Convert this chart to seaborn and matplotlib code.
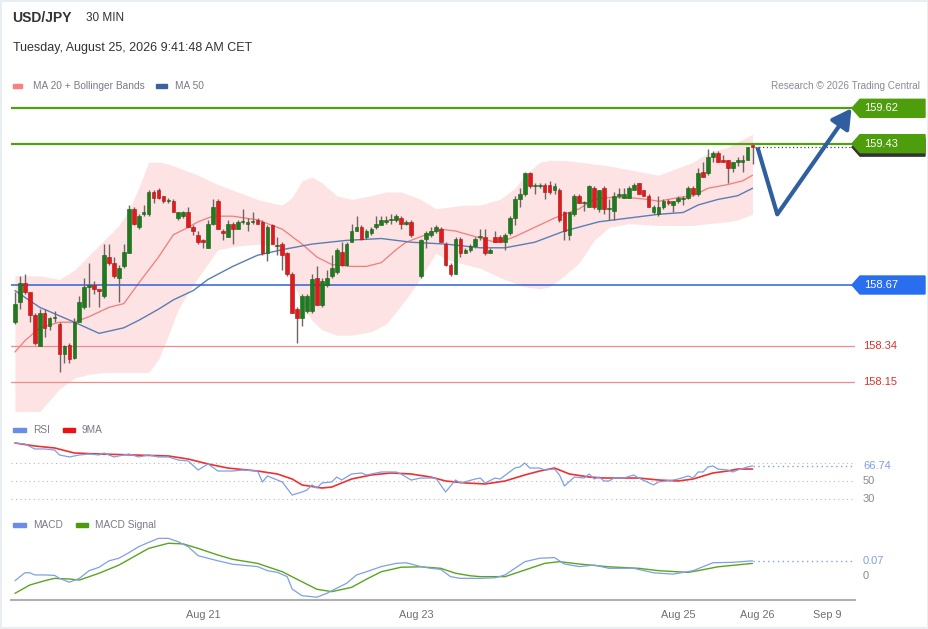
import numpy as np
import matplotlib.pyplot as plt
import seaborn as sns
from matplotlib.patches import Polygon, Rectangle
from matplotlib.transforms import blended_transform_factory

nan = np.nan

# velas de 30 min USD/JPY (indice 81 = hueco de fin de semana)
open_ = [
    158.47, 158.58, 158.68, 158.63, 158.51, 158.34, 158.52, 158.45, 158.49, 158.46,
    158.30, 158.35, 158.28, 158.47, 158.55, 158.66, 158.67, 158.65, 158.61, 158.82,
    158.79, 158.71, 158.77, 158.84, 159.08, 158.98, 159.05, 159.05, 159.17, 159.18,
    159.15, 159.12, 159.12, 159.03, 159.04, 159.06, 158.98, 158.94, 158.91, 158.87,
    159.00, 159.12, 158.96, 158.93, 159.00, 158.97, 159.01, 159.00, 159.01, 159.02,
    159.01, 158.84, 158.99, 158.88, 158.89, 158.84, 158.73, 158.54, 158.49, 158.53,
    158.53, 158.71, 158.56, 158.67, 158.72, 158.74, 158.85, 158.78, 158.90, 158.96,
    158.98, 158.93, 158.95, 158.98, 158.99, 159.01, 159.02, 159.02, 159.03, 159.00,
    159.01, nan, 158.72, 158.92, 158.94, 158.96, 158.97, 158.89, 158.78, 158.73,
    158.92, 158.84, 158.86, 158.88, 158.93, 158.93, 158.84, 158.93, 158.93, 158.90,
    158.95, 159.03, 159.13, 159.16, 159.27, 159.20, 159.20, 159.21, 159.21, 159.18,
    159.18, 159.06, 158.94, 159.05, 159.15, 159.11, 159.09, 159.19, 159.08, 159.19,
    159.08, 159.07, 159.15, 159.14, 159.14, 159.18, 159.22, 159.18, 159.15, 159.06,
    159.05, 159.09, 159.12, 159.10, 159.12, 159.13, 159.14, 159.19, 159.16, 159.28,
    159.27, 159.36, 159.38, 159.34, 159.34, 159.30, 159.33, 159.33, 159.34, 159.42,
]
close = [
    158.57, 158.68, 158.63, 158.51, 158.36, 158.52, 158.44, 158.49, 158.50, 158.30,
    158.34, 158.27, 158.47, 158.58, 158.66, 158.67, 158.65, 158.64, 158.83, 158.79,
    158.72, 158.76, 158.85, 159.08, 159.00, 159.04, 159.06, 159.17, 159.14, 159.14,
    159.12, 159.12, 159.06, 159.06, 159.06, 158.98, 158.96, 158.90, 158.90, 159.00,
    159.09, 158.97, 158.95, 159.00, 158.97, 159.01, 159.01, 159.01, 159.01, 159.00,
    158.84, 158.98, 158.89, 158.88, 158.83, 158.73, 158.52, 158.49, 158.61, 158.61,
    158.70, 158.56, 158.69, 158.71, 158.76, 158.86, 158.78, 158.89, 158.96, 158.98,
    158.92, 158.96, 158.97, 159.00, 159.02, 159.02, 159.02, 159.04, 159.00, 159.01,
    158.94, nan, 158.91, 158.95, 158.96, 158.98, 158.90, 158.78, 158.73, 158.92,
    158.84, 158.86, 158.88, 158.92, 158.93, 158.84, 158.86, 158.90, 158.90, 158.94,
    159.03, 159.13, 159.16, 159.27, 159.20, 159.20, 159.21, 159.17, 159.17, 159.20,
    159.02, 158.96, 159.06, 159.15, 159.11, 159.11, 159.20, 159.09, 159.18, 159.08,
    159.08, 159.15, 159.16, 159.16, 159.19, 159.21, 159.16, 159.15, 159.09, 159.09,
    159.09, 159.12, 159.11, 159.12, 159.14, 159.14, 159.19, 159.16, 159.27, 159.25,
    159.36, 159.38, 159.33, 159.33, 159.30, 159.33, 159.34, 159.34, 159.41, 159.41,
]
high = [
    158.63, 158.72, 158.73, 158.63, 158.52, 158.54, 158.54, 158.50, 158.53, 158.47,
    158.35, 158.36, 158.49, 158.61, 158.71, 158.79, 158.69, 158.65, 158.89, 158.89,
    158.82, 158.78, 158.89, 159.10, 159.09, 159.05, 159.10, 159.18, 159.18, 159.19,
    159.15, 159.14, 159.13, 159.06, 159.07, 159.09, 158.99, 158.96, 158.92, 159.02,
    159.13, 159.13, 158.97, 159.02, 159.01, 159.02, 159.08, 159.03, 159.06, 159.03,
    159.02, 158.99, 159.00, 158.93, 158.90, 158.85, 158.74, 158.55, 158.62, 158.62,
    158.73, 158.77, 158.71, 158.75, 158.83, 158.87, 158.90, 158.90, 159.00, 159.04,
    158.99, 158.97, 158.98, 159.04, 159.04, 159.04, 159.05, 159.05, 159.04, 159.02,
    159.02, nan, 158.92, 158.96, 158.98, 158.99, 158.98, 158.90, 158.79, 158.93,
    158.93, 158.87, 158.89, 158.93, 158.97, 158.97, 158.87, 158.96, 158.94, 158.95,
    159.04, 159.15, 159.19, 159.28, 159.28, 159.22, 159.22, 159.22, 159.23, 159.22,
    159.19, 159.07, 159.06, 159.16, 159.16, 159.12, 159.21, 159.20, 159.18, 159.20,
    159.13, 159.17, 159.19, 159.19, 159.20, 159.22, 159.22, 159.18, 159.16, 159.10,
    159.15, 159.13, 159.13, 159.12, 159.15, 159.15, 159.20, 159.20, 159.30, 159.33,
    159.40, 159.39, 159.39, 159.37, 159.34, 159.33, 159.36, 159.37, 159.41, 159.42,
]
low = [
    158.46, 158.54, 158.62, 158.47, 158.35, 158.34, 158.39, 158.43, 158.47, 158.20,
    158.25, 158.25, 158.27, 158.47, 158.54, 158.55, 158.62, 158.55, 158.60, 158.78,
    158.71, 158.58, 158.76, 158.84, 158.99, 158.97, 159.04, 159.04, 159.11, 159.13,
    159.11, 159.11, 159.06, 159.02, 159.03, 158.98, 158.94, 158.89, 158.87, 158.87,
    158.99, 158.97, 158.91, 158.93, 158.89, 158.97, 159.00, 158.96, 159.00, 159.00,
    158.83, 158.80, 158.89, 158.83, 158.75, 158.72, 158.52, 158.36, 158.45, 158.52,
    158.52, 158.56, 158.55, 158.66, 158.71, 158.73, 158.77, 158.77, 158.90, 158.96,
    158.91, 158.92, 158.94, 158.97, 158.99, 159.00, 159.00, 159.01, 158.97, 158.99,
    158.93, nan, 158.71, 158.87, 158.93, 158.95, 158.90, 158.77, 158.72, 158.73,
    158.82, 158.84, 158.85, 158.87, 158.91, 158.83, 158.84, 158.90, 158.90, 158.86,
    158.94, 158.99, 159.09, 159.15, 159.19, 159.16, 159.19, 159.13, 159.16, 159.16,
    159.01, 158.91, 158.91, 159.04, 159.11, 159.07, 159.09, 159.08, 159.06, 159.05,
    159.02, 159.02, 159.14, 159.14, 159.14, 159.18, 159.16, 159.15, 159.09, 159.05,
    159.04, 159.08, 159.10, 159.06, 159.11, 159.10, 159.13, 159.15, 159.15, 159.25,
    159.26, 159.33, 159.33, 159.33, 159.22, 159.28, 159.31, 159.28, 159.34, 159.32,
]

# bandas de Bollinger y medias moviles
bb_idx = [0, 5, 9, 12, 15, 18, 21, 23, 25, 27, 29, 31, 33, 35, 37, 41, 45, 49, 52, 54,
          56, 58, 60, 62, 65, 68, 72, 75, 78, 80, 82, 85, 88, 91, 94, 98, 101, 103, 106, 108,
          111, 114, 117, 120, 124, 130, 137, 140, 144, 146, 149]
bb_upper = [158.72, 158.72, 158.70, 158.75, 158.83, 158.91, 158.99, 159.07, 159.19, 159.33,
            159.33, 159.32, 159.30, 159.28, 159.26, 159.21, 159.17, 159.13, 159.11, 159.10,
            159.14, 159.23, 159.25, 159.22, 159.15, 159.13, 159.15, 159.17, 159.17, 159.15,
            159.13, 159.08, 159.09, 159.10, 159.10, 159.13, 159.19, 159.26, 159.33, 159.34,
            159.34, 159.33, 159.32, 159.31, 159.29, 159.26, 159.33, 159.38, 159.41, 159.44, 159.48]
bb_lower = [157.92, 157.99, 158.11, 158.17, 158.19, 158.20, 158.20, 158.20, 158.20, 158.20,
            158.27, 158.40, 158.54, 158.63, 158.71, 158.86, 158.88, 158.89, 158.88, 158.83,
            158.70, 158.56, 158.48, 158.43, 158.40, 158.40, 158.42, 158.46, 158.56, 158.63,
            158.71, 158.84, 158.80, 158.78, 158.76, 158.71, 158.68, 158.66, 158.65, 158.66,
            158.72, 158.79, 158.91, 158.98, 159.00, 158.99, 158.99, 159.00, 159.01, 159.02, 159.05]

ma20_idx = [0, 2, 5, 9, 12, 15, 19, 22, 25, 29, 32, 35, 37, 40, 44, 49, 54, 58, 61, 64,
            68, 71, 74, 77, 79, 82, 86, 89, 93, 97, 99, 101, 105, 109, 114, 117, 120, 124, 128, 130,
            134, 137, 140, 144, 147, 149]
ma20 = [158.31, 158.37, 158.44, 158.47, 158.47, 158.50, 158.55, 158.57, 158.68, 158.82,
        158.94, 158.98, 159.01, 159.04, 159.04, 159.02, 158.97, 158.89, 158.82, 158.78,
        158.77, 158.77, 158.79, 158.86, 158.90, 158.93, 158.97, 158.96, 158.93, 158.90,
        158.91, 158.93, 158.98, 159.03, 159.08, 159.13, 159.14, 159.14, 159.13, 159.12,
        159.14, 159.15, 159.19, 159.21, 159.23, 159.26]

ma50_idx = [0, 5, 12, 17, 22, 25, 29, 32, 36, 39, 44, 49, 54, 60, 67, 74, 80, 87, 94, 99,
            105, 111, 118, 124, 130, 135, 138, 142, 146, 149]
ma50 = [158.64, 158.55, 158.47, 158.41, 158.44, 158.48, 158.54, 158.59, 158.64, 158.70,
        158.77, 158.83, 158.86, 158.89, 158.91, 158.92, 158.90, 158.89, 158.87, 158.87,
        158.90, 158.96, 159.01, 159.03, 159.05, 159.06, 159.10, 159.13, 159.15, 159.19]

levels_green = [159.62, 159.43]
level_blue = 158.67
levels_red = [158.34, 158.15]

# escenario proyectado (flecha)
proj_idx = [150, 154, 169]
proj_price = [159.41, 159.05, 159.62]

# RSI y su media de 9
rsi_idx = [0, 2, 4, 6, 8, 9, 11, 13, 15, 17, 18, 20, 23, 25, 27, 29, 31, 33, 35, 37,
           39, 41, 44, 46, 49, 50, 51, 53, 54, 56, 58, 59, 60, 61, 62, 64, 65, 66, 68, 70,
           71, 74, 77, 78, 80, 82, 85, 87, 89, 90, 93, 94, 95, 97, 98, 101, 102, 103, 104, 106,
           107, 109, 110, 111, 113, 115, 116, 117, 118, 119, 120, 121, 123, 125, 126, 129, 130, 133, 134, 136,
           137, 138, 139, 140, 141, 142, 144, 145, 146, 148, 149]
rsi = [92.2, 91.1, 85.6, 85.6, 84.4, 78.9, 76.7, 78.9, 80.0, 78.9, 81.1, 76.7, 80.0, 76.7, 78.9,
       76.7, 76.7, 73.3, 72.2, 62.2, 68.9, 61.1, 61.1, 62.2, 61.1, 48.9, 55.6, 51.1, 48.9, 34.4,
       37.8, 40.0, 45.6, 42.2, 47.8, 48.9, 54.4, 51.1, 57.8, 58.9, 56.7, 60.0, 60.0, 57.8, 51.1,
       53.3, 53.3, 37.8, 51.1, 47.8, 52.2, 53.3, 47.8, 53.3, 52.2, 64.4, 65.6, 70.0, 64.4, 64.4,
       62.2, 63.3, 56.7, 44.4, 54.4, 53.3, 57.8, 52.2, 54.4, 50.0, 50.0, 53.3, 53.3, 56.7, 53.3,
       45.6, 48.9, 51.1, 52.2, 55.6, 53.3, 60.0, 60.0, 65.6, 66.7, 63.3, 62.2, 60.0, 62.2, 65.6, 66.74]
rsi_ma_idx = [0, 4, 8, 12, 17, 24, 31, 35, 39, 43, 49, 53, 56, 58, 62, 64, 68, 72, 76, 80,
              84, 87, 91, 95, 99, 103, 106, 109, 110, 112, 116, 119, 122, 126, 130, 134, 137, 141, 144, 146, 149]
rsi_ma = [92.2, 88.9, 86.7, 81.1, 80.0, 78.9, 77.8, 74.4, 68.9, 64.4, 61.1, 57.8, 52.2, 45.6, 42.2,
          43.3, 52.2, 56.7, 58.9, 57.8, 54.4, 50.0, 47.8, 46.7, 50.0, 56.7, 61.1, 64.4, 62.2, 57.8,
          54.4, 53.3, 53.3, 53.3, 51.1, 50.0, 52.2, 58.9, 61.1, 63.3, 63.3]

# MACD y senal
macd_idx = [0, 2, 3, 4, 6, 8, 9, 11, 13, 15, 17, 19, 21, 23, 25, 27, 29, 31, 33, 35,
            37, 39, 41, 44, 49, 51, 53, 55, 56, 58, 61, 63, 65, 67, 69, 71, 74, 77, 79, 82,
            84, 86, 88, 90, 94, 97, 99, 103, 106, 109, 111, 114, 117, 120, 125, 129, 133, 137, 141, 145, 149]
macd = [-0.022, 0.015, 0.015, 0.005, 0.005, 0.003, -0.011, -0.029, -0.011, 0.025,
        0.041, 0.071, 0.083, 0.109, 0.137, 0.157, 0.176, 0.176, 0.160, 0.137,
        0.095, 0.083, 0.071, 0.055, 0.044, 0.025, 0.017, -0.003, -0.061, -0.092,
        -0.099, -0.081, -0.057, -0.034, 0.005, 0.020, 0.044, 0.059, 0.062, 0.044,
        0.036, 0.031, -0.003, -0.011, -0.011, -0.008, 0.005, 0.067, 0.083, 0.086,
        0.056, 0.044, 0.051, 0.036, 0.036, 0.015, 0.009, 0.025, 0.062, 0.064, 0.071]
sig_idx = [0, 3, 6, 8, 11, 13, 17, 21, 24, 27, 31, 34, 37, 41, 44, 49, 54, 58, 61, 64,
           68, 71, 74, 78, 82, 86, 89, 92, 94, 99, 103, 107, 110, 114, 120, 126, 130, 136, 138, 142, 149]
sig = [-0.081, -0.042, -0.022, -0.011, -0.014, -0.019, 0.013, 0.051, 0.090, 0.129,
       0.153, 0.150, 0.129, 0.098, 0.078, 0.059, 0.020, -0.027, -0.062, -0.073,
       -0.053, -0.015, 0.020, 0.041, 0.043, 0.036, 0.013, 0.001, -0.003, -0.003,
       0.028, 0.059, 0.067, 0.056, 0.043, 0.036, 0.025, 0.017, 0.025, 0.043, 0.059]

tick_idx = [38, 81, 134, 150, 164]
tick_lab = ["Aug 21", "Aug 23", "Aug 25", "Aug 26", "Sep 9"]

# colores
GREEN_C, RED_C, WICK = "#1e7b1e", "#e31a1c", "#716464"
LVL_GREEN, LVL_BLUE, LVL_RED = "#52a012", "#2f62d8", "#f08c8c"
RSI_C, MACD_C = "#7f9fe6", "#7f9fe6"

W, H = 929, 629
def fx(px): return px / W
def fy(py): return 1 - py / H
def fa(px): return (px - 11) / 844   # x en fraccion de ejes

sns.set_theme(style="white")
plt.rcParams['font.family'] = ['Liberation Sans', 'DejaVu Sans']

fig = plt.figure(figsize=(W / 100, H / 100), dpi=100)
fig.patch.set_facecolor("white")
fig.patch.set_edgecolor("#e8eef1")
fig.patch.set_linewidth(1.5)

X0, X1 = -0.8, 169.7

def panel(top, bottom):
    a = fig.add_axes([fx(11), fy(bottom), 844 / W, (bottom - top) / H])
    a.set_xlim(X0, X1)
    a.set_facecolor("none")
    for s in a.spines.values():
        s.set_visible(False)
    a.set_xticks([])
    a.set_yticks([])
    a.set_xlabel("")
    a.set_ylabel("")
    return a

# ---- panel de precios ----
ax = panel(95, 411)
ax.set_ylim(157.9926, 159.6915)

ax.fill_between(bb_idx, bb_lower, bb_upper, color="#fde3e3", lw=0, zorder=1)
sns.lineplot(x=ma20_idx, y=ma20, ax=ax, color="#f27c7c", lw=0.9, zorder=2)
sns.lineplot(x=ma50_idx, y=ma50, ax=ax, color="#5a7db6", lw=1.0, zorder=2)

for lv in levels_green:
    ax.axhline(lv, color=LVL_GREEN, lw=1.6, zorder=3)
ax.axhline(level_blue, color=LVL_BLUE, lw=1.1, zorder=3)
for lv in levels_red:
    ax.axhline(lv, color=LVL_RED, lw=0.9, zorder=3)

idx = np.arange(len(close))
o, c = np.array(open_), np.array(close)
h, l = np.array(high), np.array(low)
ok = ~np.isnan(c)
up = ok & (c >= o)
dn = ok & (c < o)
body = np.maximum(np.abs(c - o), 0.005)
bot = np.minimum(o, c)
ax.vlines(idx[ok], l[ok], h[ok], color=WICK, lw=1, zorder=4)
ax.bar(idx[up], body[up], bottom=bot[up], width=0.74, color=GREEN_C,
       edgecolor="#156015", linewidth=0.4, zorder=5)
ax.bar(idx[dn], body[dn], bottom=bot[dn], width=0.74, color=RED_C,
       edgecolor="#a81212", linewidth=0.4, zorder=5)

last = close[-1]
ax.hlines(last, len(close) - 0.5, X1, color="#444444", lw=0.9, ls=(0, (1, 2)), zorder=3)

# flecha de escenario
ARROW = "#2f5f9e"
ax.plot(proj_idx[:2], proj_price[:2], color=ARROW, lw=3, solid_capstyle="butt", zorder=6)
ax.annotate("", xy=(proj_idx[2], proj_price[2]), xytext=(proj_idx[1], proj_price[1]),
            arrowprops=dict(arrowstyle="-|>,head_length=0.9,head_width=0.5", color=ARROW,
                            lw=3, mutation_scale=13, shrinkA=0, shrinkB=0),
            annotation_clip=False, zorder=6)

# etiquetas de niveles a la derecha
tr = blended_transform_factory(ax.transAxes, ax.transData)
hh = 9 / 186

def tag(level, color, shadow=False):
    if shadow:
        d = 3.5 / 186
        sv = [(fa(852), level - d), (fa(860), level + hh - d), (fa(925), level + hh - d),
              (fa(925), level - hh - d), (fa(860), level - hh - d)]
        ax.add_patch(Polygon(sv, closed=True, transform=tr, color="#333333",
                             clip_on=False, zorder=6))
    v = [(fa(852), level), (fa(860), level + hh), (fa(925), level + hh),
         (fa(925), level - hh), (fa(860), level - hh)]
    ax.add_patch(Polygon(v, closed=True, transform=tr, color=color, clip_on=False, zorder=7))
    ax.text(fa(864), level, f"{level:.2f}", transform=tr, color="white", fontsize=8,
            va="center", ha="left", clip_on=False, zorder=8)

tag(levels_green[0], "#4e9d0c")
tag(levels_green[1], "#4e9d0c", shadow=True)
tag(level_blue, "#2a6ef0")
for lv in levels_red:
    ax.text(fa(863), lv, f"{lv:.2f}", transform=tr, color="#e0302a", fontsize=8,
            va="center", ha="left", clip_on=False)

# ---- panel RSI ----
ax_r = panel(433, 505)
ax_r.set_ylim(23.33, 103.33)
for v in [70, 50, 30]:
    ax_r.axhline(v, color="#b8b8b8", lw=0.8, ls=(0, (1, 3)), zorder=1)
sns.lineplot(x=rsi_idx, y=rsi, ax=ax_r, color=RSI_C, lw=0.9, zorder=3)
sns.lineplot(x=rsi_ma_idx, y=rsi_ma, ax=ax_r, color="#f03030", lw=1.2, zorder=2)
ax_r.hlines(rsi[-1], rsi_idx[-1], X1, color=RSI_C, lw=1, ls=(0, (1, 2.5)), zorder=2)
tr_r = blended_transform_factory(ax_r.transAxes, ax_r.transData)
ax_r.text(fa(863), rsi[-1], f"{rsi[-1]:.2f}", transform=tr_r, color=RSI_C, fontsize=8,
          va="center", ha="left", clip_on=False)
for v in [50, 30]:
    ax_r.text(fa(863), v, str(v), transform=tr_r, color="#8a8a8a", fontsize=8,
              va="center", ha="left", clip_on=False)

# ---- panel MACD ----
ax_m = panel(530, 600)
ax_m.set_ylim(-0.1121, 0.2150)
sns.lineplot(x=macd_idx, y=macd, ax=ax_m, color=MACD_C, lw=0.9, zorder=3)
sns.lineplot(x=sig_idx, y=sig, ax=ax_m, color="#5aa51e", lw=1.0, zorder=2)
ax_m.hlines(macd[-1], macd_idx[-1], X1, color=MACD_C, lw=1, ls=(0, (1, 2.5)))
tr_m = blended_transform_factory(ax_m.transAxes, ax_m.transData)
ax_m.text(fa(863), macd[-1], f"{macd[-1]:.2f}", transform=tr_m, color=MACD_C, fontsize=8,
          va="center", ha="left", clip_on=False)
ax_m.text(fa(863), 0, "0", transform=tr_m, color="#8a8a8a", fontsize=8,
          va="center", ha="left", clip_on=False)

ax_m.spines["bottom"].set_visible(True)
ax_m.spines["bottom"].set_color("#b0b0b0")
ax_m.spines["bottom"].set_linewidth(1.5)
ax_m.set_xticks(tick_idx, tick_lab)
ax_m.tick_params(axis="x", which="major", length=0, pad=7, labelsize=7.8, labelcolor="#707070")
ax_m.set_xticks([X0 + 0.05, X1 - 0.05], minor=True)
ax_m.tick_params(axis="x", which="minor", length=4, width=1.5, color="#b0b0b0", direction="out")

# ---- titulos y leyendas ----
fig.text(fx(12), fy(18), "USD/JPY", fontsize=10, fontweight="bold", color="#333333", va="center")
fig.text(fx(86), fy(18), "30 MIN", fontsize=8.5, color="#333333", va="center")
fig.text(fx(13), fy(48), "Tuesday, August 25, 2026 9:41:48 AM CET", fontsize=9,
         color="#333333", va="center")
fig.text(fx(920), fy(86), "Research \u00a9 2026 Trading Central", fontsize=7.2,
         color="#8a8a9a", va="center", ha="right")

def swatch(x, y, w, hgt, color):
    fig.add_artist(Rectangle((fx(x), fy(y + hgt / 2)), w / W, hgt / H, color=color,
                             transform=fig.transFigure))

def legend_item(x, y, w, color, label, tx):
    swatch(x, y, w, 4.5, color)
    fig.text(fx(tx), fy(y), label, fontsize=7.3, color="#7a7a8a", va="center")

legend_item(13, 86, 9, "#ff7f7f", "MA 20 + Bollinger Bands", 33)
legend_item(156, 86, 11, "#3a62a0", "MA 50", 175)
legend_item(13, 430, 13, "#6a8ee6", "RSI", 33)
legend_item(63, 430, 12, "#ee1111", "9MA", 82)
legend_item(13, 525, 13, "#6a8ee6", "MACD", 33)
legend_item(76, 525, 12, "#4c9a10", "MACD Signal", 95)

fig.savefig("out.png", dpi=100)
